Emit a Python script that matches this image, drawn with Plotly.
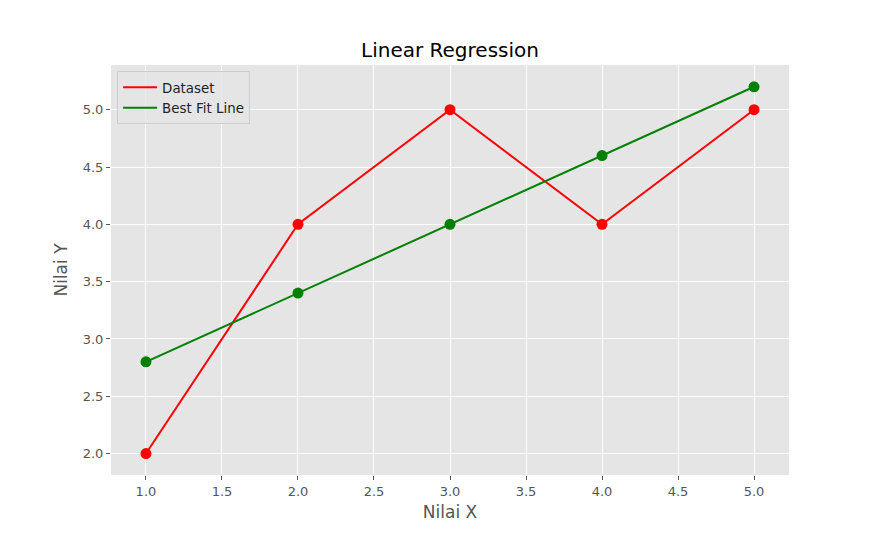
import plotly.graph_objects as go

x_vals = [1, 2, 3, 4, 5]
dataset_y = [2, 4, 5, 4, 5]
fit_y = [2.8, 3.4, 4.0, 4.6, 5.2]

fig = go.Figure()
font_family = "DejaVu Sans"

for name, ys, color in [("Dataset", dataset_y, "red"), ("Best Fit Line", fit_y, "green")]:
    fig.add_trace(go.Scatter(x=x_vals, y=ys, mode="lines", name=name,
                             line=dict(color=color, width=2)))
    fig.add_trace(go.Scatter(x=x_vals, y=ys, mode="markers", showlegend=False,
                             marker=dict(color=color, size=11), hoverinfo="skip"))

fig.update_layout(
    width=869, height=527,
    paper_bgcolor="white", plot_bgcolor="#E5E5E5",
    margin=dict(l=103, r=88, t=57, b=60),
    font=dict(family=font_family, color="#555555", size=13),
    title=dict(text="Linear Regression", x=0.5, xref="paper", y=1 - 42 / 527, yref="container",
               xanchor="center", yanchor="middle",
               font=dict(family=font_family, size=20, color="black")),
    showlegend=True,
    legend=dict(x=0.009, y=0.985, xanchor="left", yanchor="top",
                bgcolor="rgba(229,229,229,0.8)", bordercolor="#CCCCCC", borderwidth=1,
                font=dict(family=font_family, size=13.4, color="#222222"),
                tracegroupgap=0, itemwidth=34),
)
fig.update_xaxes(range=[0.77, 5.23], tick0=1, dtick=0.5, tickformat=".1f",
                 showgrid=True, gridcolor="white", gridwidth=1, zeroline=False,
                 ticks="outside", ticklen=4, tickcolor="#555555", showline=False,
                 tickfont=dict(size=13, color="#555555"),
                 title=dict(text="Nilai X", font=dict(size=17, color="#555555"), standoff=8))
fig.update_yaxes(range=[1.813, 5.39], tick0=2, dtick=0.5, tickformat=".1f",
                 showgrid=True, gridcolor="white", gridwidth=1, zeroline=False,
                 ticks="outside", ticklen=4, tickcolor="#555555", showline=False,
                 tickfont=dict(size=13, color="#555555"),
                 title=dict(text="Nilai Y", font=dict(size=17, color="#555555"), standoff=10))

fig.write_html("out.html")
